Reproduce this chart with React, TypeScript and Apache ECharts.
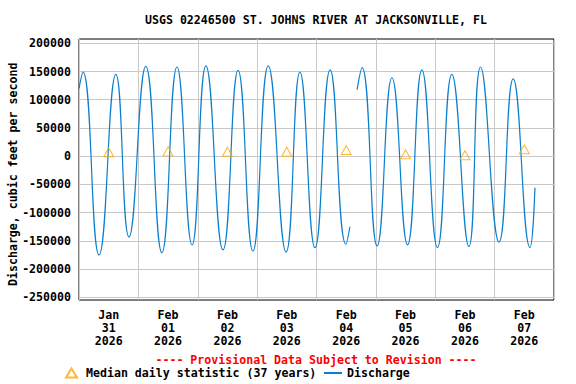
import React, { useEffect, useRef } from 'react';
import * as echarts from 'echarts';

const FONT = '"DejaVu Sans Mono", "Liberation Mono", monospace';
const FONT_SIZE = 11.6;

const titleText = 'USGS 02246500 ST. JOHNS RIVER AT JACKSONVILLE, FL';
const yAxisName = 'Discharge, cubic feet per second';
const provisionalText = '---- Provisional Data Subject to Revision ----';
const medianName = 'Median daily statistic (37 years)';
const dischargeName = 'Discharge';

// x axis: hours since 2026-01-31 00:00
const dayLabels = [
  'Jan\n31\n2026',
  'Feb\n01\n2026',
  'Feb\n02\n2026',
  'Feb\n03\n2026',
  'Feb\n04\n2026',
  'Feb\n05\n2026',
  'Feb\n06\n2026',
  'Feb\n07\n2026',
];
const dayCenterHours = [12, 36, 60, 84, 108, 132, 156, 180];

// Median daily statistic (cfs), one per day at noon
const medianValues = [7000, 8500, 8000, 8000, 10800, 3300, 1800, 12400];

// Discharge (cfs): tidal highs / lows
const dischargeHours = [
  0, 1.6, 8.1, 14.9, 20.2, 27.0, 33.5, 39.6, 45.7, 51.3, 58.2, 64.3, 70.3, 76.5,
  83.7, 89.3, 95.4, 101.5, 107.9, 109.5, 111.0, 112.4, 114.4, 120.5, 126.5, 132.8,
  138.6, 144.9, 150.7, 157.6, 162.3, 169.8, 175.5, 182.3, 184.3,
];
const dischargeValues: (number | null)[] = [
  120000, 149000, -175000, 145000, -143000, 159000, -171000, 158000, -157000, 160000,
  -166000, 152000, -168000, 160000, -170000, 149000, -162000, 153000, -156000, -125000,
  null, 118000, 157000, -159000, 139000, -157000, 153000, -162000, 145000, -160000,
  158000, -152000, 137000, -162000, -56000,
];

const Y_MIN = -250000;
const Y_MAX = 200000;
const Y_STEP = 50000;
const X_MIN = 0;
const X_MAX = 192;
const X_STEP = 24;

const LINE_COLOR = '#0a7fce';
const MEDIAN_COLOR = '#ffa500';
const GRID_COLOR = '#c8c8c8';

const textBase = {
  fontFamily: FONT,
  fontWeight: 'bold' as const,
  fontSize: FONT_SIZE,
  color: '#000',
};

export default function App() {
  const ref = useRef<HTMLDivElement>(null);

  useEffect(() => {
    if (!ref.current) return;
    const chart = echarts.init(ref.current, undefined, { renderer: 'svg' });
    const option = {
      animation: false,
      backgroundColor: '#fff',
      textStyle: { fontFamily: FONT, fontWeight: 'bold' },
      graphic: [
        {
          type: 'text',
          x: 316,
          y: 20,
          style: {
            text: titleText,
            align: 'center',
            verticalAlign: 'middle',
            font: `bold ${FONT_SIZE}px ${FONT}`,
            fill: '#000',
          },
        },
        {
          type: 'text',
          x: 316,
          y: 359.5,
          style: {
            text: provisionalText,
            align: 'center',
            verticalAlign: 'middle',
            font: `bold ${FONT_SIZE}px ${FONT}`,
            fill: '#ff0000',
          },
        },
      ],
      legend: [
        {
          left: 65,
          top: 367,
          padding: 0,
          itemWidth: 11,
          itemHeight: 9,
          textStyle: { ...textBase, padding: [0, 0, 0, 4] },
          data: [medianName],
        },
        {
          left: 323,
          top: 367,
          padding: 0,
          itemWidth: 18,
          itemHeight: 10,
          textStyle: { ...textBase },
          data: [{ name: dischargeName, itemStyle: { opacity: 0 } }],
        },
      ],
      grid: [
        {
          left: 79,
          top: 39,
          right: 22,
          bottom: 84,
          show: true,
          borderColor: '#000',
          borderWidth: 1,
          backgroundColor: 'transparent',
          containLabel: false,
          outerBoundsMode: 'none',
        },
        {
          left: 79,
          top: 43.3,
          right: 22,
          bottom: 86.7,
          containLabel: false,
          outerBoundsMode: 'none',
        },
      ],
      xAxis: [
        {
          gridIndex: 0,
          type: 'value',
          min: X_MIN,
          max: X_MAX,
          interval: X_STEP,
          axisLine: { show: false },
          axisTick: { show: false },
          splitLine: { show: true, lineStyle: { color: GRID_COLOR, width: 1 } },
          axisLabel: {
            show: true,
            customValues: dayCenterHours,
            margin: 8,
            lineHeight: 13,
            ...textBase,
            formatter: (v: number) => {
              const i = dayCenterHours.indexOf(Math.round(v));
              return i >= 0 ? dayLabels[i] : '';
            },
          },
        },
        {
          gridIndex: 1,
          type: 'value',
          min: X_MIN,
          max: X_MAX,
          show: false,
        },
      ],
      yAxis: [
        {
          gridIndex: 0,
          type: 'value',
          min: 0,
          max: 1,
          show: false,
        },
        {
          gridIndex: 1,
          type: 'value',
          min: Y_MIN,
          max: Y_MAX,
          interval: Y_STEP,
          axisLine: { show: false },
          axisTick: { show: false },
          splitLine: { show: true, lineStyle: { color: GRID_COLOR, width: 1 } },
          axisLabel: { margin: 8, ...textBase, formatter: (v: number) => String(v) },
          name: yAxisName,
          nameLocation: 'middle',
          nameGap: 60,
          nameMoveOverlap: false,
          nameTextStyle: { ...textBase, padding: [0, 8, 0, 0] },
        },
      ],
      series: [
        {
          type: 'line',
          name: dischargeName,
          xAxisIndex: 1,
          yAxisIndex: 1,
          data: dischargeHours.map((h, i) => [h, dischargeValues[i]]),
          symbol: 'none',
          showSymbol: false,
          smooth: 0.5,
          connectNulls: false,
          lineStyle: { color: LINE_COLOR, width: 1.2 },
          itemStyle: { color: LINE_COLOR },
          z: 2,
        },
        {
          type: 'scatter',
          name: medianName,
          xAxisIndex: 1,
          yAxisIndex: 1,
          data: dayCenterHours.map((h, i) => [h, medianValues[i]]),
          symbol: 'triangle',
          symbolSize: [10, 9],
          itemStyle: { color: 'transparent', borderColor: MEDIAN_COLOR, borderWidth: 1 },
          z: 3,
        },
      ],
    };
    chart.setOption(option as any);
    return () => chart.dispose();
  }, []);

  return (
    <div
      ref={ref}
      style={{ position: 'fixed', left: 0, top: 0, width: 576, height: 384 }}
    />
  );
}
